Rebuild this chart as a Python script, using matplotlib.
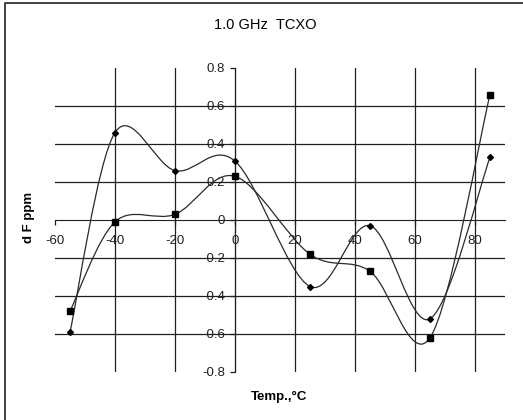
import matplotlib
matplotlib.use('Agg')
import matplotlib.pyplot as plt
from matplotlib.path import Path
from matplotlib.patches import PathPatch
from matplotlib.lines import Line2D

plt.rcParams['font.family'] = ['Liberation Sans', 'DejaVu Sans']
plt.rcParams['axes.unicode_minus'] = False

# dane
temps = [-55, -40, -20, 0, 25, 45, 65, 85]
series_diamond = [-0.59, 0.46, 0.26, 0.31, -0.35, -0.03, -0.52, 0.33]
series_square = [-0.48, -0.01, 0.03, 0.23, -0.18, -0.27, -0.62, 0.66]
x_ticks = [-60, -40, -20, 0, 20, 40, 60, 80]
y_ticks = [-0.8, -0.6, -0.4, -0.2, 0, 0.2, 0.4, 0.6, 0.8]


# gladka linia jak w Excelu (krzywe Beziera przez punkty)
def smooth_path(xs, ys):
    pts = list(zip(xs, ys))
    verts = [pts[0]]
    codes = [Path.MOVETO]
    n = len(pts)
    for i in range(n - 1):
        p0 = pts[i - 1] if i > 0 else pts[i]
        p1 = pts[i]
        p2 = pts[i + 1]
        p3 = pts[i + 2] if i + 2 < n else pts[i + 1]
        c1 = (p1[0] + (p2[0] - p0[0]) / 6, p1[1] + (p2[1] - p0[1]) / 6)
        c2 = (p2[0] - (p3[0] - p1[0]) / 6, p2[1] - (p3[1] - p1[1]) / 6)
        verts += [c1, c2, p2]
        codes += [Path.CURVE4] * 3
    return Path(verts, codes)


fig = plt.figure(figsize=(5.23, 4.20), dpi=100)
# ramka wykresu (widoczna tylko gora i lewa strona)
bx, by = 4.5 / 523, 1 - 2.5 / 420
fig.lines.append(Line2D([bx, bx, 1.0], [0.0, by, by], transform=fig.transFigure,
                        color='#333333', linewidth=1.3))

ax = fig.add_axes([55 / 523, 1 - 372 / 420, 450 / 523, 304 / 420])
ax.set_xlim(-60, 90)
ax.set_ylim(-0.8, 0.8)

for x in x_ticks[1:]:
    ax.axvline(x, color='#202020', linewidth=0.9, zorder=1)
for y in y_ticks[1:-1]:
    if y != 0:
        ax.axhline(y, color='#202020', linewidth=0.9, zorder=1)

for ys in (series_diamond, series_square):
    ax.add_patch(PathPatch(smooth_path(temps, ys), facecolor='none',
                           edgecolor='#2a2a2a', linewidth=0.9, zorder=3))
ax.plot(temps, series_diamond, linestyle='none', marker='D', markersize=3.0,
        color='black', zorder=4)
ax.plot(temps, series_square, linestyle='none', marker='s', markersize=4.3,
        color='black', zorder=4)

for s in ['top', 'right']:
    ax.spines[s].set_visible(False)
ax.spines['left'].set_position(('data', 0))
ax.spines['bottom'].set_position(('data', 0))
ax.spines['left'].set_color('#202020')
ax.spines['bottom'].set_color('#202020')

ax.set_xticks(x_ticks)
ax.set_xticklabels([str(t) for t in x_ticks])
ax.set_yticks(y_ticks)
ax.set_yticklabels(['0' if t == 0 else f'{t:.1f}' for t in y_ticks])
ax.tick_params(axis='both', direction='out', length=3.6, width=0.9, labelsize=9.5,
               colors='#202020', pad=3.5)
ax.tick_params(axis='x', pad=7)

fig.text(265 / 523, 1 - 25 / 420, '1.0 GHz  TCXO', ha='center', va='center', fontsize=10.5)
fig.text(29 / 523, 1 - 217 / 420, 'd F ppm', ha='center', va='center', rotation=90,
         fontsize=9.5, fontweight='bold')
fig.text(279 / 523, 1 - 397 / 420, 'Temp.,°C', ha='center', va='center',
         fontsize=9.5, fontweight='bold')

fig.savefig('out.png', dpi=100, facecolor='white')
